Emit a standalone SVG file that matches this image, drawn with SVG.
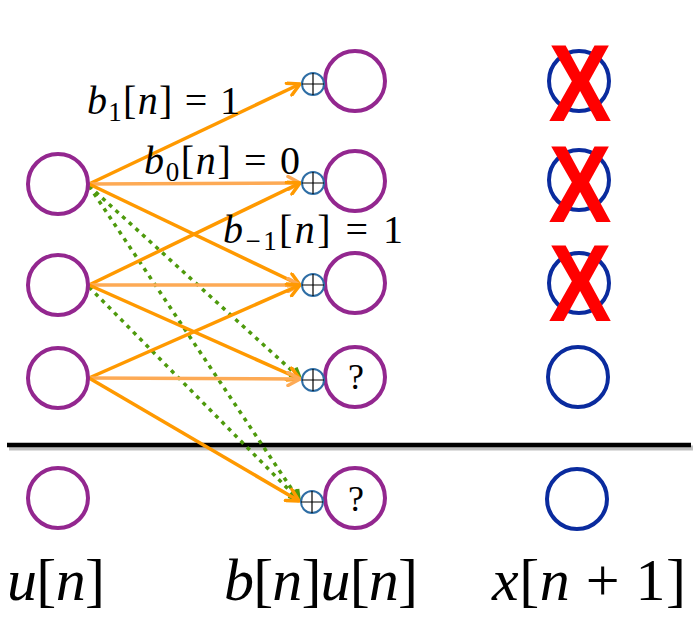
<svg xmlns="http://www.w3.org/2000/svg" width="700" height="619" viewBox="0 0 700 619">
<style>
.pn{fill:none;stroke:#93278F;stroke-width:4}
.bn{fill:none;stroke:#0A2B9E;stroke-width:4}
.sum{fill:#fff;stroke:#2F6EA5;stroke-width:2}
.plus{stroke:#000;stroke-width:1.2}
.ar{fill:none;stroke:#FF9900;stroke-width:3.5}
.arl{fill:none;stroke:#FDAA55;stroke-width:3.5}
.gr{fill:none;stroke:#4E9A0C;stroke-width:3.5;stroke-dasharray:4 5}
.i{font-style:italic}
.xm{font-weight:bold;font-size:110px;fill:#FF0000;text-anchor:middle}
</style>
<defs>
<marker id="ho" markerUnits="userSpaceOnUse" viewBox="0 0 16 16" markerWidth="16" markerHeight="16" refX="14" refY="8" orient="auto"><path d="M2,1.5 L14,8 L2,14.5" fill="none" stroke="#FF9900" stroke-width="3.5" stroke-linecap="round" stroke-linejoin="round"/></marker>
<marker id="hl" markerUnits="userSpaceOnUse" viewBox="0 0 16 16" markerWidth="16" markerHeight="16" refX="14" refY="8" orient="auto"><path d="M2,1.5 L14,8 L2,14.5" fill="none" stroke="#FDAA55" stroke-width="3.5" stroke-linecap="round" stroke-linejoin="round"/></marker>
<marker id="hg" markerUnits="userSpaceOnUse" viewBox="0 0 16 16" markerWidth="16" markerHeight="16" refX="14" refY="8" orient="auto"><path d="M4,3 L14,8 L4,13" fill="none" stroke="#4E9A0C" stroke-width="3.5" stroke-linejoin="round"/></marker>
</defs>

<g id="separator">
<line x1="9" y1="448" x2="693" y2="448" stroke="#000" stroke-opacity="0.25" stroke-width="5"/>
<line x1="7" y1="445" x2="691" y2="445" stroke="#000" stroke-width="4.5"/>
</g>

<g id="connectors">
<line class="gr" x1="89" y1="186" x2="300" y2="378" marker-end="url(#hg)"/>
<line class="gr" x1="89" y1="186" x2="299" y2="500" marker-end="url(#hg)"/>
<line class="gr" x1="89" y1="287" x2="299" y2="500" marker-end="url(#hg)"/>
<line class="ar" x1="89" y1="184" x2="300" y2="84" marker-end="url(#ho)"/>
<line class="arl" x1="89" y1="184" x2="300" y2="183" marker-end="url(#hl)"/>
<line class="ar" x1="89" y1="184" x2="300" y2="285" marker-end="url(#ho)"/>
<line class="ar" x1="89" y1="285" x2="300" y2="183" marker-end="url(#ho)"/>
<line class="arl" x1="89" y1="285" x2="300" y2="285" marker-end="url(#hl)"/>
<line class="ar" x1="89" y1="285" x2="300" y2="379" marker-end="url(#ho)"/>
<line class="ar" x1="89" y1="378" x2="300" y2="285" marker-end="url(#ho)"/>
<line class="arl" x1="89" y1="378" x2="300" y2="379" marker-end="url(#hl)"/>
<line class="ar" x1="89" y1="378" x2="299" y2="501" marker-end="url(#ho)"/>
</g>

<g id="u1"><circle class="pn" cx="58" cy="184" r="30"/></g>
<g id="u2"><circle class="pn" cx="58" cy="285" r="30"/></g>
<g id="u3"><circle class="pn" cx="58" cy="378" r="30"/></g>
<g id="u4"><circle class="pn" cx="58" cy="498" r="30"/></g>

<g id="b1"><circle class="pn" cx="355" cy="81" r="30"/><circle class="sum" cx="313" cy="84" r="11"/><path class="plus" d="M302,84 H324 M313,73 V95"/></g>
<g id="b2"><circle class="pn" cx="355" cy="181" r="30"/><circle class="sum" cx="313" cy="183" r="11"/><path class="plus" d="M302,183 H324 M313,172 V194"/></g>
<g id="b3"><circle class="pn" cx="355" cy="283" r="30"/><circle class="sum" cx="313" cy="285" r="11"/><path class="plus" d="M302,285 H324 M313,274 V296"/></g>
<g id="b4"><circle class="pn" cx="355" cy="377" r="30"/><circle class="sum" cx="313" cy="380" r="11"/><path class="plus" d="M302,380 H324 M313,369 V391"/><text font-family="'Liberation Serif','DejaVu Serif',serif" x="356" y="389" font-size="36" text-anchor="middle">?</text></g>
<g id="b5"><circle class="pn" cx="355" cy="498" r="30"/><circle class="sum" cx="312" cy="502" r="11"/><path class="plus" d="M301,502 H323 M312,491 V513"/><text font-family="'Liberation Serif','DejaVu Serif',serif" x="356" y="511" font-size="36" text-anchor="middle">?</text></g>

<g id="x1"><circle class="bn" cx="579" cy="81" r="30"/><text class="xm" font-family="'Liberation Sans',Arial,sans-serif" transform="translate(580,121) scale(0.86,1)" x="0" y="0">X</text></g>
<g id="x2"><circle class="bn" cx="579" cy="180" r="30"/><text class="xm" font-family="'Liberation Sans',Arial,sans-serif" transform="translate(580,222) scale(0.86,1)" x="0" y="0">X</text></g>
<g id="x3"><circle class="bn" cx="579" cy="283" r="30"/><text class="xm" font-family="'Liberation Sans',Arial,sans-serif" transform="translate(580,321) scale(0.86,1)" x="0" y="0">X</text></g>
<g id="x4"><circle class="bn" cx="578" cy="377" r="30"/></g>
<g id="x5"><circle class="bn" cx="577" cy="499" r="30"/></g>

<g id="labels" font-family="'Liberation Serif','DejaVu Serif',serif" fill="#000">
<text font-size="40" x="87" y="114" textLength="153" lengthAdjust="spacing"><tspan class="i">b</tspan><tspan font-size="27" dy="7">1</tspan><tspan dy="-7">[</tspan><tspan class="i">n</tspan>] = 1</text>
<text font-size="40" x="144" y="174" textLength="156" lengthAdjust="spacing"><tspan class="i">b</tspan><tspan font-size="27" dy="7">0</tspan><tspan dy="-7">[</tspan><tspan class="i">n</tspan>] = 0</text>
<text font-size="40" x="223" y="243" textLength="180" lengthAdjust="spacing"><tspan class="i">b</tspan><tspan font-size="27" dy="7">−1</tspan><tspan dy="-7">[</tspan><tspan class="i">n</tspan>] = 1</text>
<text font-size="60" x="7" y="600" textLength="98" lengthAdjust="spacing"><tspan class="i">u</tspan>[<tspan class="i">n</tspan>]</text>
<text font-size="60" x="224" y="600" textLength="194" lengthAdjust="spacing"><tspan class="i">b</tspan>[<tspan class="i">n</tspan>]<tspan class="i">u</tspan>[<tspan class="i">n</tspan>]</text>
<text font-size="60" x="492" y="600" textLength="194" lengthAdjust="spacing"><tspan class="i">x</tspan>[<tspan class="i">n</tspan> + 1]</text>
</g>
</svg>
